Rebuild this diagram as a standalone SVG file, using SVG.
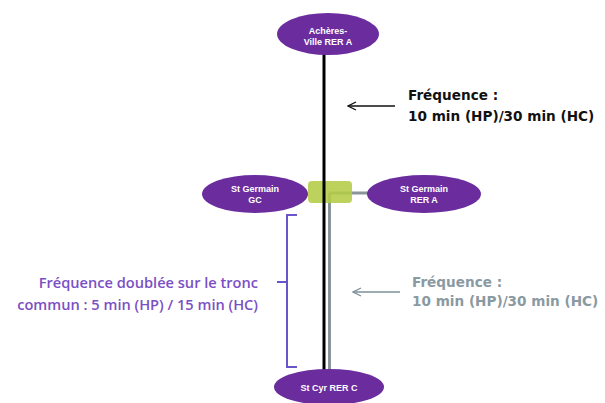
<svg xmlns="http://www.w3.org/2000/svg" width="605" height="403" viewBox="0 0 605 403">
<defs>
<style>
.st{fill:#6b2c9e;}
.lb{fill:#fff;font-family:"Liberation Sans",Arial,sans-serif;font-weight:bold;font-size:9px;text-anchor:middle;}
.fr{font-family:"DejaVu Sans",Verdana,sans-serif;font-weight:bold;font-size:13.6px;}
.lf{font-family:"Open Sans","Liberation Sans",sans-serif;font-weight:600;font-size:14.6px;fill:#7b4fc4;text-anchor:end;}
</style>
<marker id="ab" markerWidth="10" markerHeight="10" refX="9" refY="5" orient="auto" markerUnits="userSpaceOnUse"><path d="M1,1 L9,5 L1,9" fill="none" stroke="#111" stroke-width="1.3"/></marker>
<marker id="ag" markerWidth="10" markerHeight="10" refX="9" refY="5" orient="auto" markerUnits="userSpaceOnUse"><path d="M1,1 L9,5 L1,9" fill="none" stroke="#7d8f99" stroke-width="1.3"/></marker>
</defs>
<rect width="605" height="403" fill="#fff"/>
<g id="connectors">
<line x1="329" y1="193" x2="370" y2="193" stroke="#8a9499" stroke-width="3"/>
<line x1="329.5" y1="193" x2="329.5" y2="372" stroke="#8a9499" stroke-width="3"/>
<rect x="308" y="181" width="44" height="22" rx="4" fill="#b3cc45" fill-opacity="0.88"/>
<line x1="324" y1="50" x2="324" y2="372" stroke="#000" stroke-width="3"/>
<line x1="395" y1="106" x2="348" y2="106" stroke="#111" stroke-width="1.3" marker-end="url(#ab)"/>
<line x1="400" y1="292" x2="353" y2="292" stroke="#7d8f99" stroke-width="1.3" marker-end="url(#ag)"/>
<path d="M297,215 H287 V367 H297 M287,282 H277" fill="none" stroke="#6a55c8" stroke-width="2"/>
</g>
<g id="acheres">
<ellipse class="st" cx="328" cy="34" rx="51" ry="21"/>
<text class="lb" x="328" y="34">Achères-</text>
<text class="lb" x="328" y="45">Ville RER A</text>
</g>
<g id="stgermain-gc">
<ellipse class="st" cx="255" cy="194" rx="53" ry="19"/>
<text class="lb" x="255" y="192">St Germain</text>
<text class="lb" x="255" y="203">GC</text>
</g>
<g id="stgermain-rera">
<ellipse class="st" cx="424" cy="194" rx="57" ry="19"/>
<text class="lb" x="424" y="192">St Germain</text>
<text class="lb" x="424" y="203">RER A</text>
</g>
<g id="stcyr">
<ellipse class="st" cx="329" cy="387" rx="55" ry="18"/>
<text class="lb" x="329" y="391">St Cyr RER C</text>
</g>
<g id="freq-top">
<text class="fr" x="408" y="100" fill="#111">Fréquence :</text>
<text class="fr" x="408" y="121" fill="#111">10 min (HP)/30 min (HC)</text>
</g>
<g id="freq-bottom">
<text class="fr" x="412" y="287" fill="#8a9aa2">Fréquence :</text>
<text class="fr" x="412" y="306" fill="#8a9aa2">10 min (HP)/30 min (HC)</text>
</g>
<g id="freq-left">
<text class="lf" x="258" y="288">Fréquence doublée sur le tronc</text>
<text class="lf" x="258" y="310">commun : 5 min (HP) / 15 min (HC)</text>
</g>
</svg>
